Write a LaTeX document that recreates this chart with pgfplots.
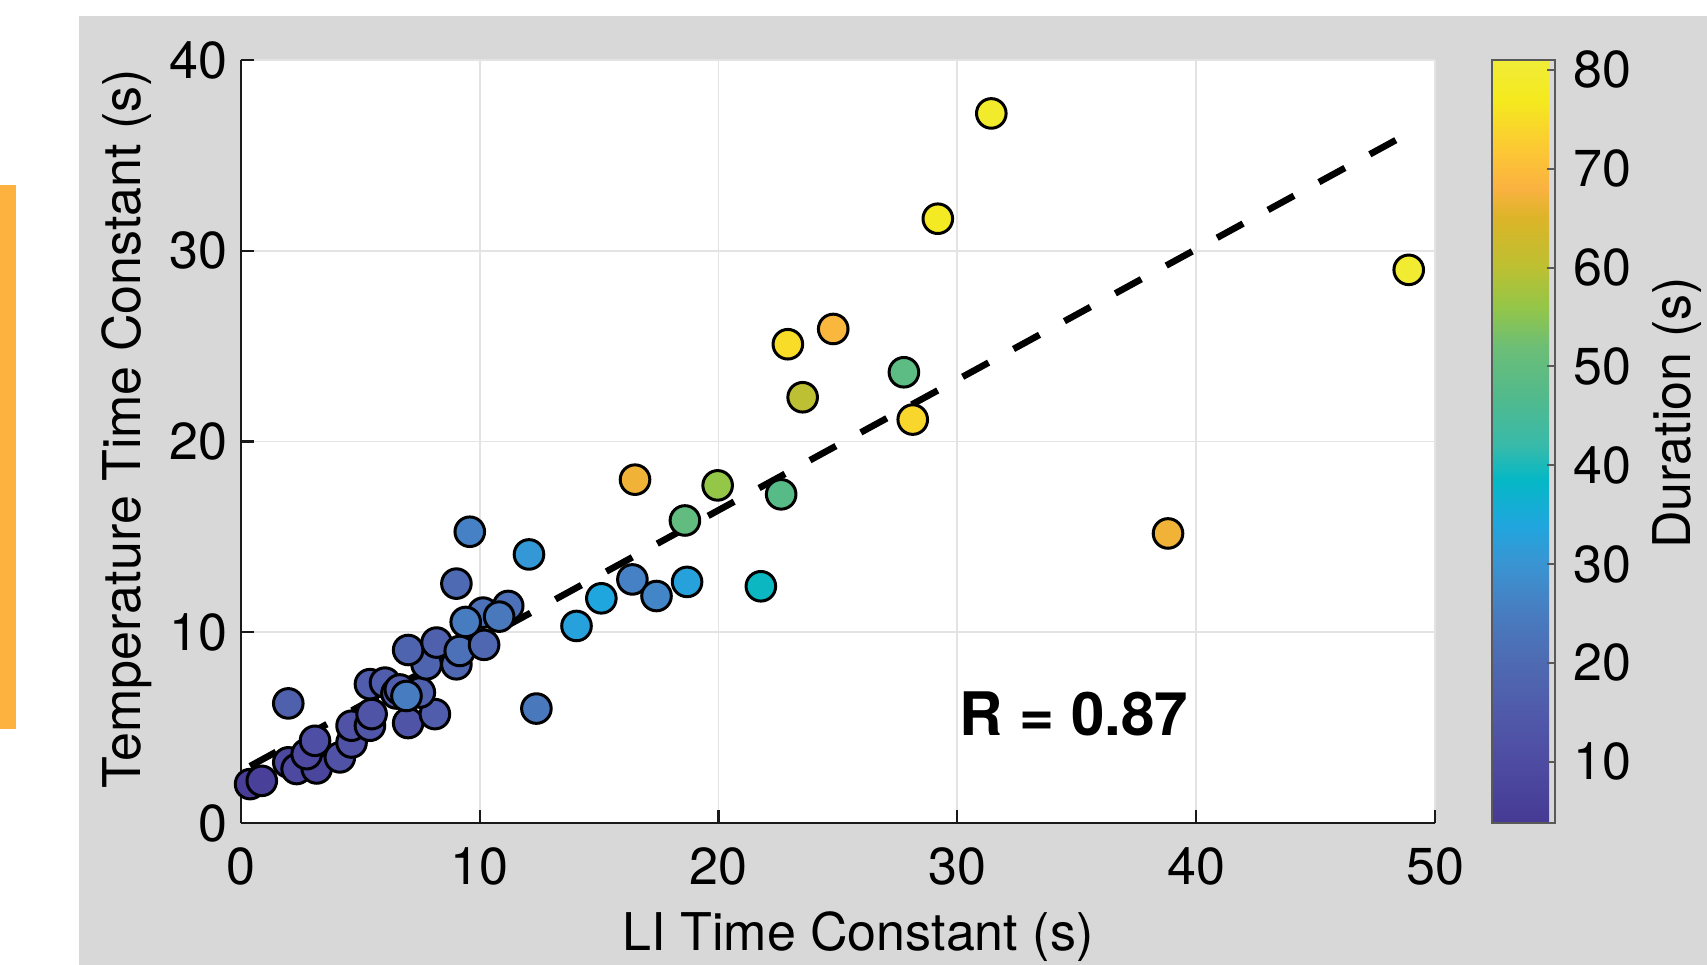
\documentclass[border=0pt]{standalone}
\usepackage{fontspec}
\setmainfont{TeX Gyre Heros}
\usepackage{pgfplots}
\usepackage{pgfplotstable}
\pgfplotsset{compat=1.18}
\definecolor{panelgray}{RGB}{216,216,216}
\definecolor{barorange}{RGB}{253,178,64}
\newcommand{\fs}{\fontsize{13}{15.6}\selectfont}
\pgfplotstableread{
x y c
0.38 2.04 5
0.87 2.21 6
1.98 3.18 9
2.33 2.83 9
3.17 2.86 8
2.75 3.61 9
3.10 4.31 11
4.14 3.44 12
4.63 4.22 12
4.63 5.10 12
5.40 5.10 14
5.47 5.71 13
1.98 6.27 17
7.00 5.24 13
8.12 5.71 16
5.40 7.28 16
6.03 7.36 16
6.51 6.79 16
6.65 7.00 16
7.49 6.84 17
6.93 6.66 25
7.77 8.32 18
7.00 9.07 18
8.19 9.46 17
9.02 8.32 19
9.16 9.02 22
10.18 9.34 19
10.14 11.03 22
11.19 11.38 22
10.81 10.82 24
9.41 10.54 25
9.02 12.55 20
9.58 15.27 26
12.06 14.08 31
12.37 6.00 24
14.05 10.33 33
15.09 11.78 34
16.39 12.77 26
17.40 11.90 27
18.68 12.64 33
21.77 12.41 39
16.50 18.00 67
18.59 15.86 50
19.96 17.70 56
22.62 17.23 48
38.82 15.18 67
23.52 22.32 60
27.76 23.63 49
28.13 21.15 74
22.90 25.10 75
24.80 25.90 69
29.18 31.68 78
31.42 37.20 79
48.90 29.00 80
}\datatable
\begin{document}
\begin{tikzpicture}
\fill[white] (0,0) rectangle (426.75pt,-241.25pt);
\fill[barorange] (0,-46.25pt) rectangle (4pt,-182.25pt);
\fill[panelgray] (19.75pt,-4pt) rectangle (426.75pt,-241.25pt);
\begin{axis}[
  at={(60.25pt,-205.75pt)}, anchor=south west,
  width=298.5pt, height=190.75pt, scale only axis,
  xmin=0, xmax=50, ymin=0, ymax=40,
  xtick={0,10,...,50}, ytick={0,10,...,40},
  axis lines*=left,
  axis line style={black!90, line width=0.55pt},
  tick align=inside, major tick length=3.25pt,
  tick style={black!90, line width=0.55pt},
  grid=major, major grid style={draw=black!11, line width=0.45pt},
  axis background/.style={fill=white},
  /pgf/number format/assume math mode=true,
  tick label style={font=\fs},
  xticklabel style={inner sep=0pt, anchor=north, yshift=-6pt},
  yticklabel style={inner sep=0pt, anchor=east, xshift=-3.25pt},
  colormap={parula}{
    rgb255(3.8pt)=(70,58,148)
    rgb255(10pt)=(78,76,162)
    rgb255(15pt)=(80,90,170)
    rgb255(20pt)=(78,106,178)
    rgb255(25pt)=(72,124,192)
    rgb255(30pt)=(58,148,210)
    rgb255(34pt)=(32,166,222)
    rgb255(38.5pt)=(4,184,198)
    rgb255(42pt)=(56,186,170)
    rgb255(47pt)=(82,186,140)
    rgb255(52pt)=(108,190,118)
    rgb255(56pt)=(148,198,72)
    rgb255(60pt)=(188,192,50)
    rgb255(65pt)=(220,180,40)
    rgb255(68pt)=(250,178,64)
    rgb255(72pt)=(252,200,52)
    rgb255(77pt)=(245,234,30)
    rgb255(81pt)=(240,236,56)
  },
  point meta min=3.8, point meta max=81,
  colorbar,
  colorbar style={
    at={(parent axis.north east)}, anchor=north west, xshift=5.75pt,
    width=15.75pt, height=190.75pt, scale only axis,
    ytick={10,20,...,80},
    ytick pos=right, yticklabel pos=right,
    tick align=inside, major tick length=2pt,
    tick style={draw=black!65, line width=0.5pt},
    axis line style={draw=black!65, line width=0.5pt},
    /pgf/number format/assume math mode=true,
    yticklabel style={inner sep=0pt, anchor=west, xshift=4.5pt, font=\fs},
  },
]
\addplot[scatter, only marks, mark=*, mark size=3.7pt,
  scatter src=explicit,
  scatter/use mapped color={draw=black, fill=mapped color},
  mark options={line width=0.75pt}]
  table[x=x, y=y, meta=c]{\datatable};
\addplot[black, line width=1.65pt, dash pattern=on 7.4pt off 7.1pt] coordinates {(0.38,2.98) (48.9,36.17)};
\node[anchor=base west, inner sep=0pt, font=\fontsize{15}{18}\selectfont\bfseries] at (axis cs:30.05,4.61) {R = 0.87};
\end{axis}
\node[anchor=base, inner sep=0pt, font=\fs] at (214.5pt,-237.5pt) {LI Time Constant (s)};
\node[anchor=base, rotate=90, inner sep=0pt, font=\fs] at (35pt,-107.125pt) {Temperature Time Constant (s)};
\node[anchor=base, rotate=90, inner sep=0pt, font=\fs] at (422.5pt,-103.25pt) {Duration (s)};
\pgfresetboundingbox
\path[use as bounding box] (0,0) rectangle (426.75pt,-241.25pt);
\end{tikzpicture}
\end{document}
